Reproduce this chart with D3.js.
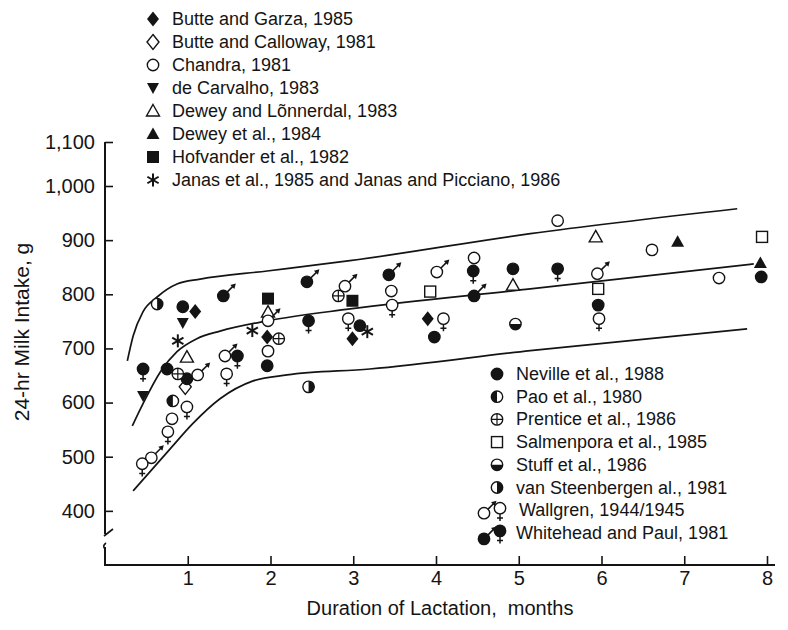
<!DOCTYPE html>
<html><head><meta charset="utf-8">
<script src="https://cdn.jsdelivr.net/npm/d3@7"></script>
<style>
body{margin:0;background:#fff}
text{font-family:"Liberation Sans",Arial,Helvetica,sans-serif;fill:#141414}
</style>
</head><body>
<svg id="c" width="788" height="630"></svg>
<script>
// ---------- data (months, grams) ----------
const xTicks = [1,2,3,4,5,6,7,8];
const yTicks = [400,500,600,700,800,900,1000,1100];

const butteGarza      = [[1.09,768],[1.96,721],[2.99,718],[3.90,755]];
const butteCalloway   = [[0.97,629]];
const chandra         = [[0.81,570],[1.97,695],[3.46,806],[4.46,867],[5.47,936],[6.61,882],[7.42,830]];
const deCarvalho      = [[0.94,747],[0.46,612]];
const deweyLonnerdal  = [[0.99,684],[1.97,767],[4.93,817],[5.93,906]];
const dewey1984       = [[6.92,897],[7.92,858]];
const hofvander       = [[1.97,792],[2.99,788]];
const janas           = [[0.88,714],[1.78,733],[3.17,731]];
const neville         = [[0.94,777],[0.75,662],[0.99,644],[1.96,668],[3.08,742],[3.98,721],[4.93,847],[5.96,780],[7.93,832]];
const pao             = [[0.82,603]];
const prentice        = [[0.88,653],[2.10,718],[2.82,797]];
const salmenpora      = [[3.93,805],[5.96,810],[7.94,906]];
const stuff           = [[4.96,745]];
const vanSteenbergen  = [[0.63,782],[2.46,629]];
const wallgrenMale    = [[0.56,498],[1.12,651],[1.45,686],[1.97,751],[2.90,815],[4.01,841],[5.95,838]];
const wallgrenFemale  = [[0.45,487],[0.76,546],[0.99,592],[1.47,653],[2.94,755],[3.47,780],[4.09,755],[5.97,755]];
const whiteheadMale   = [[1.43,797],[2.44,823],[3.43,836],[4.46,797]];
const whiteheadFemale = [[0.46,662],[1.60,686],[2.46,751],[4.45,843],[5.47,847]];

const upperMonths  = [0.27,0.34,0.46,0.63,0.87,1.15,1.96,2.96,5.14,7.64];
const upperValues  = [677,723,768,795,819,828,843,862,912,958];
const middleMonths = [0.33,0.46,0.67,0.87,1.11,1.39,1.96,2.96,5.14,7.84];
const middleValues = [557,598,657,694,718,732,751,773,810,856];
const lowerMonths  = [0.34,0.79,1.06,1.39,1.79,2.20,3.20,5.14,7.76];
const lowerValues  = [437,515,561,607,640,651,662,696,736];

const legendTopNames = ["Butte and Garza, 1985","Butte and Calloway, 1981","Chandra, 1981","de Carvalho, 1983",
  "Dewey and Lõnnerdal, 1983","Dewey et al., 1984","Hofvander et al., 1982","Janas et al., 1985 and Janas and Picciano, 1986"];
const legendBottomNames = ["Neville et al., 1988","Pao et al., 1980","Prentice et al., 1986","Salmenpora et al., 1985",
  "Stuff et al., 1986","van Steenbergen al., 1981","Wallgren, 1944/1945","Whitehead and Paul, 1981"];

const series = [
  {pts:butteGarza, type:"diamondFilled"},
  {pts:butteCalloway, type:"diamondOpen"},
  {pts:chandra, type:"circleOpen"},
  {pts:deCarvalho, type:"triDownFilled"},
  {pts:deweyLonnerdal, type:"triUpOpen"},
  {pts:dewey1984, type:"triUpFilled"},
  {pts:hofvander, type:"squareFilled"},
  {pts:janas, type:"asterisk"},
  {pts:neville, type:"circleFilled"},
  {pts:pao, type:"halfLeft"},
  {pts:prentice, type:"crossCircle"},
  {pts:salmenpora, type:"squareOpen"},
  {pts:stuff, type:"halfBottom"},
  {pts:vanSteenbergen, type:"halfRight"},
  {pts:wallgrenMale, type:"maleOpen"},
  {pts:wallgrenFemale, type:"femaleOpen"},
  {pts:whiteheadMale, type:"maleFilled"},
  {pts:whiteheadFemale, type:"femaleFilled"}
];
const legendTopTypes = ["diamondFilled","diamondOpen","circleOpen","triDownFilled","triUpOpen","triUpFilled","squareFilled","asterisk"];
const legendBottomTypes = ["circleFilled","halfLeft","crossCircle","squareOpen","halfBottom","halfRight"];

// ---------- drawing ----------
const svg = d3.select("#c");
const INK = "#141414";
const x = d3.scaleLinear().domain([0,8]).range([105,767]);
const y = d3.scaleLinear().domain([300,1000,1100]).range([565,186,142]);
const R = 5.7;

function marker(sel, type, px, py){
  const g = sel.append("g").attr("transform",`translate(${px},${py})`);
  const sw = 1.4;
  const circ = (fill)=>g.append("circle").attr("r",R).attr("fill",fill).attr("stroke",INK).attr("stroke-width",sw);
  switch(type){
    case "diamondFilled": g.append("path").attr("d","M0,-7.5L6,0L0,7.5L-6,0Z").attr("fill",INK); break;
    case "diamondOpen": g.append("path").attr("d","M0,-7.5L6,0L0,7.5L-6,0Z").attr("fill","#fff").attr("stroke",INK).attr("stroke-width",sw); break;
    case "circleOpen": circ("#fff"); break;
    case "circleFilled": circ(INK); break;
    case "triDownFilled": g.append("path").attr("d","M-6,-5L6,-5L0,6Z").attr("fill",INK); break;
    case "triUpOpen": g.append("path").attr("d","M0,-6.5L6.5,5L-6.5,5Z").attr("fill","#fff").attr("stroke",INK).attr("stroke-width",sw); break;
    case "triUpFilled": g.append("path").attr("d","M0,-6.5L6.5,5L-6.5,5Z").attr("fill",INK); break;
    case "squareFilled": g.append("rect").attr("x",-6).attr("y",-6).attr("width",12).attr("height",12).attr("fill",INK); break;
    case "squareOpen": g.append("rect").attr("x",-5.5).attr("y",-5.5).attr("width",11).attr("height",11).attr("fill","#fff").attr("stroke",INK).attr("stroke-width",sw); break;
    case "asterisk": [0,60,120].forEach(a=>g.append("line").attr("x1",0).attr("y1",-6.5).attr("x2",0).attr("y2",6.5)
        .attr("transform",`rotate(${a})`).attr("stroke",INK).attr("stroke-width",2)); break;
    case "halfLeft": circ("#fff"); g.append("path").attr("d",`M0,${-R}A${R},${R} 0 0 0 0,${R}Z`).attr("fill",INK); break;
    case "halfRight": circ("#fff"); g.append("path").attr("d",`M0,${-R}A${R},${R} 0 0 1 0,${R}Z`).attr("fill",INK); break;
    case "halfBottom": circ("#fff"); g.append("path").attr("d",`M${-R},0A${R},${R} 0 0 0 ${R},0Z`).attr("fill",INK); break;
    case "crossCircle": circ("#fff");
      g.append("path").attr("d",`M${-R},0H${R}M0,${-R}V${R}`).attr("stroke",INK).attr("stroke-width",1.2); break;
    case "maleOpen": case "maleFilled":
      g.append("line").attr("x1",3.8).attr("y1",-3.8).attr("x2",10.5).attr("y2",-10.5).attr("stroke",INK).attr("stroke-width",1.6);
      g.append("path").attr("d","M12.5,-12.5L7,-11L11,-7Z").attr("fill",INK);
      circ(type==="maleOpen"?"#fff":INK); break;
    case "femaleOpen": case "femaleFilled":
      g.append("path").attr("d",`M0,${R}V${R+7}M-3,${R+4}H3`).attr("stroke",INK).attr("stroke-width",1.5);
      circ(type==="femaleOpen"?"#fff":INK); break;
  }
}

// axes
const yAxis = d3.axisLeft(y).tickValues(yTicks).tickFormat(d3.format(",")).tickSizeInner(-8).tickSizeOuter(0).tickPadding(10);
const gy = svg.append("g").attr("transform","translate(105,0)").call(yAxis);
gy.select(".domain").remove();
gy.selectAll(".tick line").attr("stroke",INK).attr("stroke-width",1.6);
gy.selectAll(".tick text").attr("font-size",20).attr("fill",INK);

const xAxis = d3.axisBottom(x).tickValues(xTicks).tickSizeInner(-9).tickSizeOuter(0).tickPadding(6);
const gx = svg.append("g").attr("transform","translate(0,565)").call(xAxis);
gx.select(".domain").remove();
gx.selectAll(".tick line").attr("stroke",INK).attr("stroke-width",1.6);
gx.selectAll(".tick text").attr("font-size",20).attr("fill",INK);

// axis lines with break
svg.append("path").attr("d",`M105,${y(1100)}V534 M105,547V565H775`).attr("fill","none").attr("stroke",INK).attr("stroke-width",2);
svg.append("path").attr("d","M104,536L113,529 M106,543Q102,546 105,549").attr("fill","none").attr("stroke",INK).attr("stroke-width",1.6);

// axis titles
svg.append("text").attr("transform","translate(29,332) rotate(-90)").attr("text-anchor","middle")
  .attr("font-size",21).text("24-hr Milk Intake, g");
svg.append("text").attr("x",440).attr("y",615).attr("text-anchor","middle").attr("font-size",20)
  .attr("xml:space","preserve").style("white-space","pre").text("Duration of Lactation,  months");

// envelope curves
const line = d3.line().x(d=>x(d[0])).y(d=>y(d[1])).curve(d3.curveMonotoneX);
[[upperMonths,upperValues],[middleMonths,middleValues],[lowerMonths,lowerValues]].forEach(([m,v])=>{
  svg.append("path").attr("d",line(m.map((d,i)=>[d,v[i]]))).attr("fill","none").attr("stroke",INK).attr("stroke-width",1.7);
});

// points
const gp = svg.append("g");
series.forEach(s=>s.pts.forEach(p=>marker(gp,s.type,x(p[0]),y(p[1]))));

// top legend
const gl = svg.append("g");
legendTopNames.forEach((n,i)=>{
  const cy = 19 + i*23;
  marker(gl, legendTopTypes[i], 153, cy);
  gl.append("text").attr("x",172).attr("y",cy+6).attr("font-size",18).text(n);
});
// bottom legend
legendBottomNames.forEach((n,i)=>{
  const cy = 374 + i*22.7;
  if(i<6){
    marker(gl, legendBottomTypes[i], 497, cy);
    gl.append("text").attr("x",516).attr("y",cy+6).attr("font-size",18).text(n);
  } else if(i===6){
    marker(gl,"maleOpen",484,cy+3); marker(gl,"femaleOpen",500,cy-2);
    gl.append("text").attr("x",519).attr("y",cy+6).attr("font-size",18).text(n);
  } else {
    marker(gl,"maleFilled",484,cy+6); marker(gl,"femaleFilled",500,cy-2);
    gl.append("text").attr("x",516).attr("y",cy+6).attr("font-size",18).text(n);
  }
});
</script>
</body></html>
